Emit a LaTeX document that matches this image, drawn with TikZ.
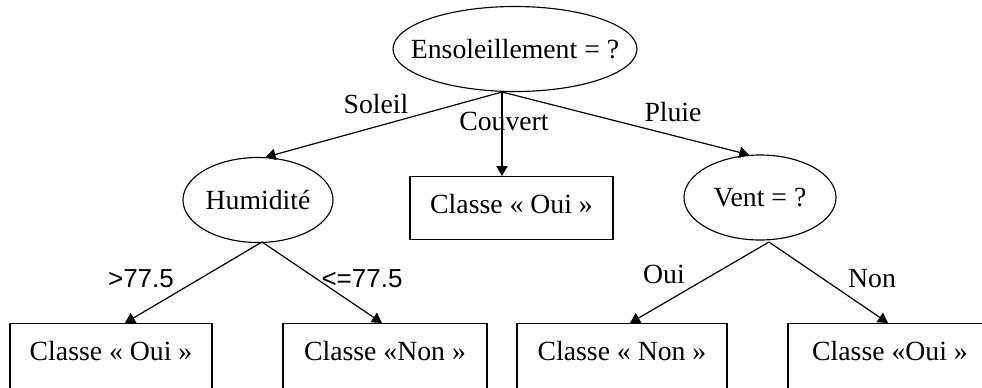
\documentclass[tikz,border=0pt]{standalone}
\usepackage{fontspec}
\setmainfont{Liberation Serif}
\newfontfamily\arialfont{Liberation Sans}
\usetikzlibrary{arrows.meta,shapes.geometric,calc}
\begin{document}
\begin{tikzpicture}[x=0.75pt,y=-0.75pt,
  txt/.style={font=\fontsize{20.8}{25}\selectfont, inner sep=0pt},
  ell/.style={txt, draw, line width=0.85pt, ellipse, inner xsep=-20pt, minimum height=63.75pt},
  leaf/.style={txt, draw, line width=0.85pt, rectangle, anchor=north, text height=27.75pt},
  lbl/.style={txt, anchor=base},
  conn/.style={line width=0.9pt, -{Triangle[length=7.5pt,width=8.5pt]}}]
\useasboundingbox (0,0) rectangle (982,387);
\clip (0,0) rectangle (982,387);
% decision nodes
\node[ell, minimum width=183pt] (root) at (515,49) {Ensoleillement = ?};
\node[ell, minimum width=112.5pt] (hum) at (258,200) {Humidit\'e};
\node[ell, minimum width=114pt] (vent) at (760,197.5) {Vent = ?};
% leaves
\node[leaf, minimum width=152.25pt, text depth=19.5pt] (mid) at (511.5,176) {Classe « Oui »};
\node[leaf, minimum width=151.5pt, text depth=26.25pt] (b1) at (111,323) {Classe « Oui »};
\node[leaf, minimum width=153pt, text depth=26.25pt] (b2) at (385,323) {Classe «Non »};
\node[leaf, minimum width=157.5pt, text depth=26.25pt] (b3) at (622,323) {Classe « Non »};
\node[leaf, minimum width=153pt, text depth=26.25pt] (b4) at (890,323) {Classe «Oui »};
% branch origins
\coordinate (rootb) at (502,92);
\coordinate (humb) at (262,242);
\coordinate (ventb) at (769,242);
% connectors
\draw[conn] (rootb) -- (hum.80);
\draw[conn] (rootb) -- (rootb |- mid.north);
\draw[conn] (rootb) -- (vent.104);
\draw[conn] (humb) -- ($(b1.north)+(14,0)$);
\draw[conn] (humb) -- ($(b2.north)+(-3,0)$);
\draw[conn] (ventb) -- ($(b3.north)+(8,0)$);
\draw[conn] (ventb) -- ($(b4.north)+(-2,0)$);
% labels
\node[lbl] (lsol) at (376,113) {Soleil};
\node[lbl] (lcou) at (504,130) {Couvert};
\node[lbl] (lplu) at (673,121) {Pluie};
\node[lbl, font=\arialfont\fontsize{19.5}{23}\selectfont] (lgt) at (141,287) {>77.5};
\node[lbl, font=\arialfont\fontsize{19.5}{23}\selectfont] (lle) at (362,287) {<=77.5};
\node[lbl] (loui) at (664,283) {Oui};
\node[lbl] (lnon) at (872,287) {Non};
\end{tikzpicture}
\end{document}
